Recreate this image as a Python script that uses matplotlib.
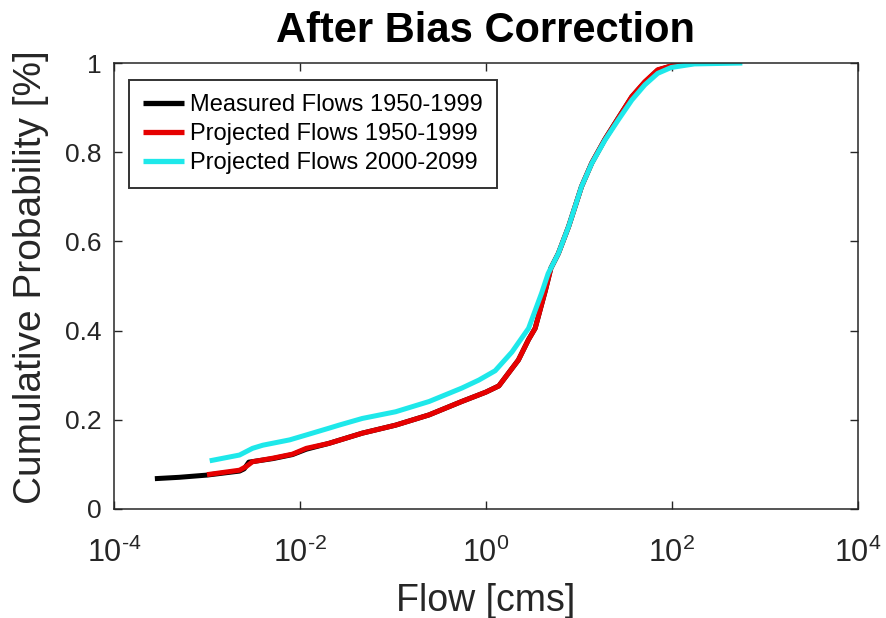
"""Empirical CDF of flows after bias correction (MATLAB-style figure)."""

import matplotlib

matplotlib.use("Agg")
import matplotlib.pyplot as plt
import numpy as np
from matplotlib.ticker import FixedLocator, FuncFormatter, NullLocator

plt.rcParams["font.family"] = ["Liberation Sans", "DejaVu Sans"]
plt.rcParams["mathtext.fontset"] = "custom"
plt.rcParams["mathtext.rm"] = "Liberation Sans"
plt.rcParams["mathtext.default"] = "regular"

# curve values: flow [cms] and cumulative probability
measured_flow = [2.75e-4, 5.0e-4, 1.0e-3, 2.24e-3, 2.51e-3, 2.82e-3, 5.13e-3,
                 8.32e-3, 1.17e-2, 2.04e-2, 4.68e-2, 0.107, 0.245, 0.55, 1.0,
                 1.38, 1.91, 2.24, 2.88, 3.39, 4.37, 5.01, 6.03, 7.76, 9.12,
                 10.7, 13.8, 19.1, 26.3, 37.2, 51.3, 70.8, 117.0, 251.0]
measured_prob = [0.068, 0.071, 0.076, 0.085, 0.090, 0.105, 0.113, 0.122, 0.134,
                 0.147, 0.170, 0.188, 0.211, 0.241, 0.262, 0.276, 0.315, 0.334,
                 0.380, 0.405, 0.490, 0.540, 0.573, 0.633, 0.678, 0.723, 0.776,
                 0.829, 0.875, 0.924, 0.957, 0.984, 0.998, 1.000]

proj_hist_flow = [1.0e-3, 2.24e-3, 2.63e-3, 3.09e-3, 5.13e-3, 8.32e-3, 1.17e-2,
                  2.04e-2, 4.68e-2, 0.107, 0.245, 0.55, 1.0, 1.38, 1.91, 2.24,
                  2.88, 3.39, 4.37, 5.01, 6.03, 7.76, 9.12, 10.7, 13.8, 19.1,
                  26.3, 37.2, 51.3, 70.8, 117.0, 251.0]
proj_hist_prob = [0.077, 0.087, 0.095, 0.106, 0.114, 0.123, 0.136, 0.147,
                  0.170, 0.188, 0.211, 0.241, 0.262, 0.276, 0.315, 0.334,
                  0.380, 0.405, 0.490, 0.540, 0.573, 0.633, 0.678, 0.723,
                  0.776, 0.829, 0.875, 0.925, 0.958, 0.985, 0.998, 1.000]

proj_future_flow = [1.07e-3, 2.24e-3, 3.09e-3, 3.98e-3, 7.76e-3, 1.17e-2,
                    2.04e-2, 2.63e-2, 4.68e-2, 0.107, 0.245, 0.55, 0.84, 1.26,
                    1.91, 2.88, 3.98, 4.68, 6.03, 7.76, 9.12, 10.7, 13.8, 19.1,
                    26.5, 37.2, 51.3, 70.8, 98.6, 175.0, 575.0]
proj_future_prob = [0.108, 0.121, 0.136, 0.143, 0.155, 0.166, 0.181, 0.188,
                    0.203, 0.218, 0.241, 0.271, 0.289, 0.310, 0.352, 0.405,
                    0.484, 0.528, 0.573, 0.633, 0.678, 0.723, 0.775, 0.827,
                    0.872, 0.917, 0.951, 0.977, 0.990, 0.998, 1.000]

series = [
    ("Measured Flows 1950-1999", measured_flow, measured_prob, "black"),
    ("Projected Flows 1950-1999", proj_hist_flow, proj_hist_prob, "#e60000"),
    ("Projected Flows 2000-2099", proj_future_flow, proj_future_prob, "#1ee8ea"),
]

x_ticks = [1e-4, 1e-2, 1e0, 1e2, 1e4]
y_ticks = [0, 0.2, 0.4, 0.6, 0.8, 1]
y_tick_labels = ["0", "0.2", "0.4", "0.6", "0.8", "1"]


def exp_label(value, _pos):
    # MATLAB prints a plain hyphen in the exponent, not a minus sign
    return r"$10^{\text{%d}}$" % round(np.log10(value))


fig = plt.figure(figsize=(8.86, 6.18), dpi=100)
ax = fig.add_axes([0.1287, 0.1764, 0.8393, 0.7216])

for label, flow, prob, color in series:
    ax.plot(flow, prob, color=color, lw=3.6, label=label,
            solid_capstyle="butt")

ax.set_xscale("log")
ax.set_xlim(1e-4, 1e4)
ax.set_ylim(0, 1)
ax.xaxis.set_major_locator(FixedLocator(x_ticks))
ax.xaxis.set_minor_locator(NullLocator())
ax.xaxis.set_major_formatter(FuncFormatter(exp_label))
ax.set_yticks(y_ticks)
ax.set_yticklabels(y_tick_labels)

ax.tick_params(direction="in", length=6, width=1.0, top=True, right=True,
               colors="#262626", labelcolor="#262626")
ax.tick_params(axis="y", labelsize=19, pad=9)
ax.tick_params(axis="x", labelsize=22, pad=21)
for spine in ax.spines.values():
    spine.set_linewidth(1.1)
    spine.set_color("#262626")

ax.set_xlabel("Flow [cms]", fontsize=27, color="#262626", labelpad=10)
ax.set_ylabel("Cumulative Probability [%]", fontsize=28, color="#262626")
ax.yaxis.set_label_coords(-0.088, 0.52)
ax.set_title("After Bias Correction", fontsize=30, fontweight="bold", pad=15)

leg = ax.legend(loc="upper left", bbox_to_anchor=(0.02, 0.962), fontsize=17,
                frameon=True, fancybox=False, handlelength=1.75,
                handletextpad=0.25, borderpad=0.6, labelspacing=0.3,
                borderaxespad=0)
leg.get_frame().set_edgecolor("black")
leg.get_frame().set_linewidth(1.4)
for line in leg.get_lines():
    line.set_linewidth(3.8)

fig.savefig("out.png", dpi=100, facecolor="white")
